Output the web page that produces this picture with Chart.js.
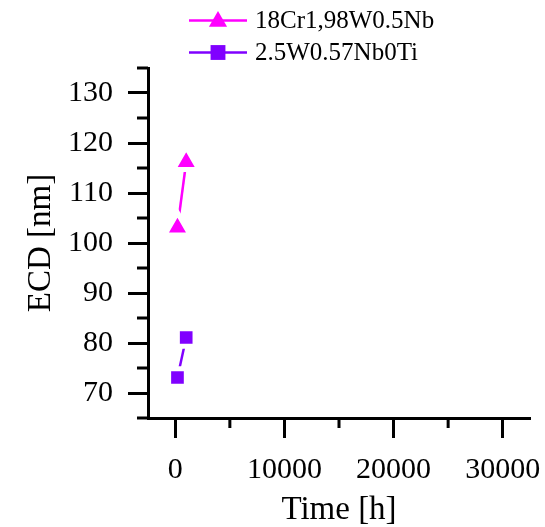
<!DOCTYPE html>
<html>
<head>
<meta charset="utf-8">
<script src="https://cdn.jsdelivr.net/npm/chart.js@4"></script>
<style>
  html, body { margin: 0; padding: 0; background: #fff; }
  #wrap { width: 545px; height: 527px; }
</style>
</head>
<body>
<div id="wrap"><canvas id="c" width="545" height="527"></canvas></div>
<script>
const seriesNames = ['18Cr1,98W0.5Nb', '2.5W0.57Nb0Ti']
const timeHours = [200, 1000]
const ecdCr = [103.1, 116.2]
const ecdW = [73.1, 81.1]
const xMajor = [0, 10000, 20000, 30000]
const xMinor = [5000, 15000, 25000]
const yMajor = [70, 80, 90, 100, 110, 120, 130]
const yMinor = [65, 75, 85, 95, 105, 115, 125, 135]

const serif = "'Liberation Serif', 'Times New Roman', serif"
const colors = ['#ff00ff', '#8000ff']
const shapes = ['triangle', 'rect']

// minor ticks, drawn from the scales
const minorTicks = {
  id: 'minorTicks',
  afterDraw(chart) {
    const ctx = chart.ctx
    const { x, y } = chart.scales
    ctx.save()
    ctx.strokeStyle = '#000'
    ctx.lineWidth = 3
    ctx.beginPath()
    xMinor.forEach(v => {
      const px = x.getPixelForValue(v)
      ctx.moveTo(px, x.top)
      ctx.lineTo(px, x.top + 10)
    })
    yMinor.forEach(v => {
      const py = y.getPixelForValue(v)
      ctx.moveTo(y.right - 11, py)
      ctx.lineTo(y.right, py)
    })
    ctx.stroke()
    ctx.restore()
  }
}

// stacked legend at the top
const stackLegend = {
  id: 'stackLegend',
  afterDraw(chart) {
    const ctx = chart.ctx
    const rows = [20.5, 52.5]
    ctx.save()
    chart.data.datasets.forEach((ds, i) => {
      const yy = rows[i]
      ctx.strokeStyle = ds.borderColor
      ctx.lineWidth = 2.5
      ctx.beginPath()
      ctx.moveTo(189, yy)
      ctx.lineTo(247, yy)
      ctx.stroke()
      ctx.fillStyle = ds.borderColor
      ctx.strokeStyle = ds.borderColor
      ctx.lineWidth = 0.1
      Chart.helpers.drawPoint(ctx, { pointStyle: ds.pointStyle, radius: i === 0 ? 10.5 : 10.5, borderWidth: 0 }, 218, yy + (i === 0 ? 1 : 0))
      ctx.fillStyle = '#000'
      ctx.font = '25px ' + serif
      ctx.textBaseline = 'middle'
      ctx.fillText(ds.label, 255, yy + 1)
    })
    ctx.restore()
  }
}

new Chart(document.getElementById('c'), {
  type: 'scatter',
  data: {
    datasets: [ecdCr, ecdW].map((vals, i) => ({
      label: seriesNames[i],
      data: vals.map((v, j) => ({ x: timeHours[j], y: v })),
      showLine: true,
      borderColor: colors[i],
      backgroundColor: colors[i],
      borderWidth: 2.5,
      pointStyle: shapes[i],
      pointRadius: i === 0 ? 14.8 : 12.5,
      pointBorderColor: '#fff',
      pointBorderWidth: 5,
      pointBackgroundColor: colors[i],
    }))
  },
  options: {
    responsive: false,
    animation: false,
    layout: { autoPadding: false, padding: { top: 68, right: 15, left: 0, bottom: 0 } },
    plugins: { legend: { display: false }, tooltip: { enabled: false } },
    scales: {
      x: {
        type: 'linear',
        min: -2500,
        max: 32500,
        afterBuildTicks: s => { s.ticks = xMajor.map(v => ({ value: v })) },
        afterFit: s => { s.height = 109; s.paddingLeft = 0; s.paddingRight = 0 },
        border: { display: true, color: '#000', width: 3 },
        grid: { drawOnChartArea: false, tickLength: 20, tickWidth: 3, tickColor: '#000' },
        ticks: { color: '#000', padding: 14, maxRotation: 0, callback: v => String(v), font: { family: serif, size: 30 } },
        title: { display: true, text: 'Time [h]', color: '#000', padding: { top: 0, bottom: 0 }, font: { family: serif, size: 33, lineHeight: 1 } }
      },
      y: {
        min: 65,
        max: 135,
        afterBuildTicks: s => { s.ticks = yMajor.map(v => ({ value: v })) },
        afterFit: s => { s.width = 148; s.paddingTop = 0; s.paddingBottom = 0 },
        border: { display: true, color: '#000', width: 3 },
        grid: { drawOnChartArea: false, tickLength: 20, tickWidth: 3, tickColor: '#000' },
        ticks: { color: '#000', padding: 15, callback: v => String(v), font: { family: serif, size: 30 } },
        title: { display: true, text: 'ECD [nm]', color: '#000', padding: { top: 25, bottom: 0 }, font: { family: serif, size: 33, lineHeight: 1 } }
      }
    }
  },
  plugins: [minorTicks, stackLegend]
})
</script>
</body>
</html>
